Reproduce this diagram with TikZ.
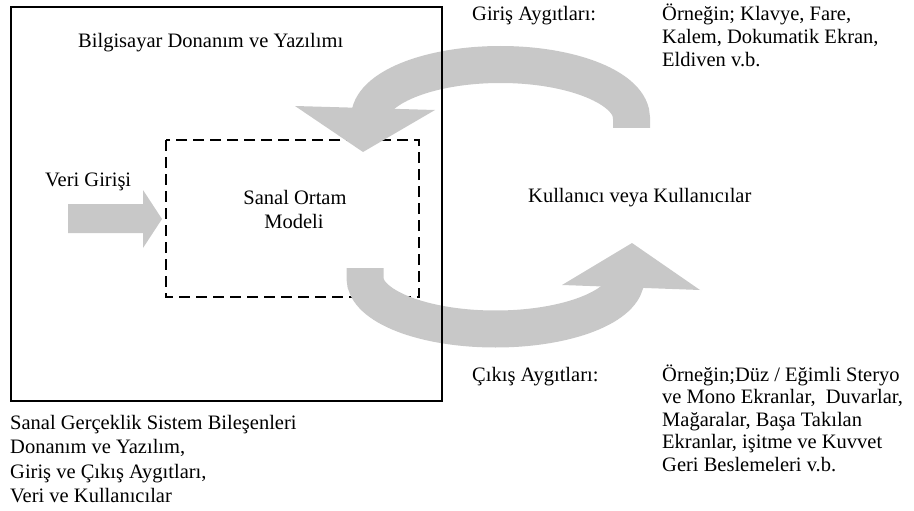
\documentclass[tikz,border=0pt]{standalone}
\usepackage{fontspec}
\setmainfont{Liberation Serif}
\definecolor{arrowgray}{RGB}{200,200,200}
\begin{document}
\begin{tikzpicture}[x=1pt,y=-1pt,
  txt/.style={anchor=base west, inner sep=0pt, font=\fontsize{20.5}{24}\selectfont},
  ctxt/.style={anchor=base, inner sep=0pt, font=\fontsize{20.5}{24}\selectfont},
  band/.style={draw=arrowgray, line width=37pt, line cap=butt},
  headfill/.style={fill=arrowgray, draw=none}]
\useasboundingbox (0,0) rectangle (914,511);

% dashed model box
\draw[line width=1.8pt, dash pattern=on 11pt off 6pt] (166,140) rectangle (419,297);

% input arrow
\fill[arrowgray] (68,204) -- (143,204) -- (143,190) -- (162,219) -- (143,248) -- (143,233) -- (68,233) -- cycle;

% top curved arrow (input devices -> model)
\coordinate (ttail) at (631.5,128);
\coordinate (tR) at (631.5,118);
\coordinate (tT) at (500.5,64.5);
\coordinate (tL) at (369.5,118);
\coordinate (tend) at (369.5,114);
\draw[band] (ttail) -- (tR) .. controls (631.5,88.45) and (572.85,64.5) .. (tT)
   .. controls (428.15,64.5) and (369.5,88.45) .. (tL) -- (tend);
\coordinate (th1) at (295,106);
\coordinate (th2) at (435,110);
\coordinate (thtip) at (363,152);
\fill[headfill] (th1) -- (th2) -- (thtip) -- cycle;

% bottom curved arrow (model -> output devices)
\coordinate (btail) at (365,268);
\coordinate (bL) at (365,278);
\coordinate (bB) at (495.5,329);
\coordinate (bR) at (626,278);
\coordinate (bend) at (626,282);
\draw[band] (btail) -- (bL) .. controls (365,306.17) and (423.42,329) .. (bB)
   .. controls (567.58,329) and (626,306.17) .. (bR) -- (bend);
\coordinate (bh1) at (562,285);
\coordinate (bh2) at (700,290);
\coordinate (bhtip) at (632,243);
\fill[headfill] (bh1) -- (bh2) -- (bhtip) -- cycle;

% outer system box
\draw[line width=2pt] (11,7.5) rectangle (442,401);

% texts
\node[txt] (hw) at (78,48) {Bilgisayar Donanım ve Yazılımı};
\node[txt] (veri) at (45,186) {Veri Girişi};
\node[ctxt] (model1) at (295,204) {Sanal Ortam};
\node[ctxt] (model2) at (294,228) {Modeli};
\node[txt] (user) at (528,202) {Kullanıcı veya Kullanıcılar};

\node[txt] (gin) at (472,21) {Giriş Aygıtları:};
\node[txt] (gin1) at (662,21) {Örneğin; Klavye, Fare,};
\node[txt] (gin2) at (662,44) {Kalem, Dokumatik Ekran,};
\node[txt] (gin3) at (662,67) {Eldiven v.b.};

\node[txt] (cik) at (472,381) {Çıkış Aygıtları:};
\node[txt] (cik1) at (662,381) {Örneğin;Düz / Eğimli Steryo};
\node[txt] (cik2) at (662,403.6) {ve Mono Ekranlar,\ \ Duvarlar,};
\node[txt] (cik3) at (662,426.2) {Mağaralar, Başa Takılan};
\node[txt] (cik4) at (662,448.8) {Ekranlar, işitme ve Kuvvet};
\node[txt] (cik5) at (662,471.4) {Geri Beslemeleri v.b.};

\node[txt] (cap1) at (10,429) {Sanal Gerçeklik Sistem Bileşenleri};
\node[txt] (cap2) at (10,453.5) {Donanım ve Yazılım,};
\node[txt] (cap3) at (10,478) {Giriş ve Çıkış Aygıtları,};
\node[txt] (cap4) at (10,502.5) {Veri ve Kullanıcılar};
\end{tikzpicture}
\end{document}
